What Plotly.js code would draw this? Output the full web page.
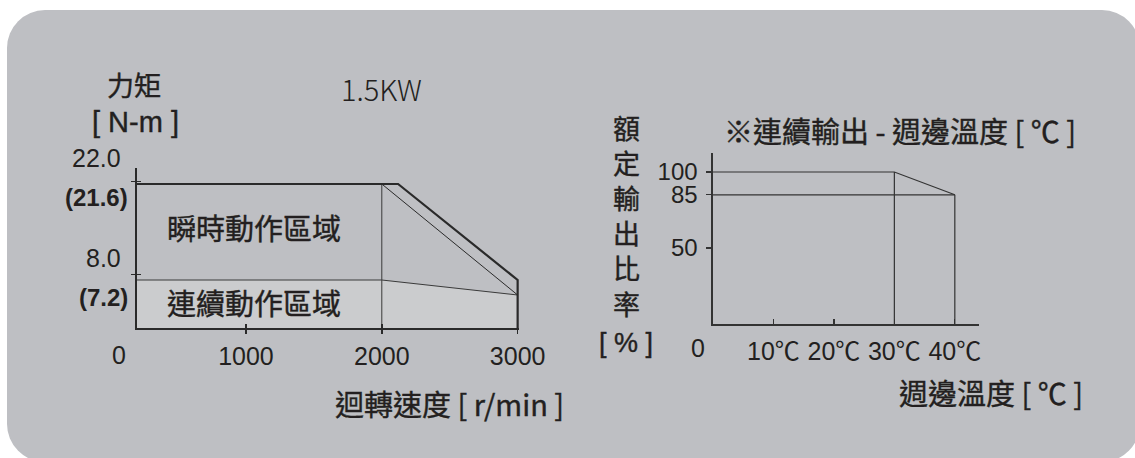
<!DOCTYPE html>
<html>
<head>
<meta charset="utf-8">
<script src="https://cdn.plot.ly/plotly-3.0.1.min.js"></script>
<style>
  html, body { margin: 0; padding: 0; background: #ffffff; }
  #wrap { position: relative; width: 1135px; height: 458px; overflow: hidden; }
  #panel { position: absolute; left: 7px; top: 10px; width: 1133px; height: 452px;
           border-radius: 38px; background: #bebfc3; }
  #chart { position: absolute; left: 0; top: 0; width: 1135px; height: 458px; }
</style>
</head>
<body>
<div id="wrap"><div id="panel"></div><div id="chart"></div></div>
<script>
// ---- Left chart: torque vs speed (1.5KW) ----
const peakSpeed = [0, 2120, 3000, 3000];      // r/min
const peakTorque = [21.6, 21.6, 7.2, 0];      // N-m
const innerSpeed = [2000, 3000];
const innerTorque = [21.6, 4.95];
const contSpeed = [0, 2000, 3000];
const contTorque = [7.2, 7.2, 4.95];
const splitSpeed = [2000, 2000];
const splitTorque = [0, 21.6];
const speedTicks = [1000, 2000, 3000];
const speedTickText = ['1000', '2000', '3000'];
const torqueTicks = [22, 8];
const torqueTickText = ['22.0', '8.0'];
const torqueMarks = [21.6, 7.2];
const torqueMarkText = ['(21.6)', '(7.2)'];

// ---- Right chart: rated output vs ambient temperature ----
const tempRated = [0, 30, 40];
const outRated = [100, 100, 85];
const temp85 = [0, 40];
const out85 = [85, 85];
const temp30Line = [30, 30];
const out30Line = [0, 100];
const temp40Line = [40, 40];
const out40Line = [0, 85];
const tempTicks = [10, 20, 30, 40];
const tempTickText = ['10℃', '20℃', '30℃', '40℃'];
const outTicks = [50, 85, 100];
const outTickText = ['50', '85', '100'];
const verticalLabel = ['額', '定', '輸', '出', '比', '率', '[ % ]'];

const W = 1135, H = 458;
const px = v => v / W;
const py = v => 1 - v / H;
const ink = '#231f20';
const lineC = '#2a2a2a';
const cjk = 'Noto Sans CJK TC, Noto Sans CJK SC, sans-serif';
const lat = 'Liberation Sans, Arial, Noto Sans CJK TC, sans-serif';

const traces = [
  { x: contSpeed.concat([contSpeed[contSpeed.length - 1], contSpeed[0]]),
    y: contTorque.concat([0, 0]),
    type: 'scatter', mode: 'lines', fill: 'toself', fillcolor: '#cbccce',
    line: { width: 0, color: 'rgba(0,0,0,0)' }, hoverinfo: 'skip', xaxis: 'x', yaxis: 'y' },
  { x: splitSpeed, y: splitTorque, type: 'scatter', mode: 'lines',
    line: { color: '#3a3a3a', width: 1 }, xaxis: 'x', yaxis: 'y' },
  { x: contSpeed, y: contTorque, type: 'scatter', mode: 'lines',
    line: { color: '#3a3a3a', width: 1 }, xaxis: 'x', yaxis: 'y' },
  { x: innerSpeed, y: innerTorque, type: 'scatter', mode: 'lines',
    line: { color: '#2a2a2a', width: 1 }, xaxis: 'x', yaxis: 'y' },
  { x: peakSpeed, y: peakTorque, type: 'scatter', mode: 'lines',
    line: { color: lineC, width: 2.2 }, xaxis: 'x', yaxis: 'y' },
  { x: [], y: [], type: 'scatter', mode: 'lines', xaxis: 'x3', yaxis: 'y3' },

  { x: tempRated, y: outRated, type: 'scatter', mode: 'lines',
    line: { color: '#333', width: 1.2 }, xaxis: 'x2', yaxis: 'y2' },
  { x: temp85, y: out85, type: 'scatter', mode: 'lines',
    line: { color: '#333', width: 1.2 }, xaxis: 'x2', yaxis: 'y2' },
  { x: temp30Line, y: out30Line, type: 'scatter', mode: 'lines',
    line: { color: '#333', width: 1.2 }, xaxis: 'x2', yaxis: 'y2' },
  { x: temp40Line, y: out40Line, type: 'scatter', mode: 'lines',
    line: { color: '#333', width: 1.2 }, xaxis: 'x2', yaxis: 'y2' }
];

const baseAxis = { showgrid: false, zeroline: false, fixedrange: true };

const annotations = [];
const heavyIdx = [];
function addText(text, xPix, yPix, size, opts, heavy) {
  if (heavy !== false) heavyIdx.push(annotations.length);
  annotations.push(Object.assign({
    text: text, xref: 'paper', yref: 'paper', x: px(xPix), y: py(yPix),
    xanchor: 'center', yanchor: 'middle', showarrow: false,
    font: { family: cjk, size: size, color: ink }
  }, opts || {}));
}
addText('力矩', 134, 85, 27);
addText('[ N-m ]', 135, 122, 29, { font: { family: lat, size: 29, color: ink } });
addText('1.5KW', 381, 88, 29, { font: { family: cjk, size: 29, color: ink, weight: 300 } }, false);
addText('瞬時動作區域', 254, 227, 29);
addText('連續動作區域', 254, 302, 29);
addText('迴轉速度 [ r/min ]', 449, 403, 29);
addText('※連續輸出 - 週邊溫度 [ ℃ ]', 900, 130, 29);
addText('週邊溫度 [ ℃ ]', 991, 392, 29);
verticalLabel.forEach((ch, i) => {
  const y = i < 6 ? 127 + i * 35.2 : 343;
  addText(ch, 626, y, 27, i < 6 ? {} : { font: { family: lat, size: 27, color: ink } });
});

// torque tick labels (placed beside their values)
const tickShift = [23, 17];
torqueTicks.forEach((v, i) => annotations.push({
  text: torqueTickText[i], xref: 'paper', yref: 'y', x: px(123), y: v, yshift: tickShift[i],
  xanchor: 'right', yanchor: 'middle', showarrow: false,
  font: { family: lat, size: 25, color: ink } }));
const markShift = [-14, -17];
torqueMarks.forEach((v, i) => annotations.push({
  text: '<b>' + torqueMarkText[i] + '</b>', xref: 'paper', yref: 'y', x: px(130), y: v, yshift: markShift[i],
  xanchor: 'right', yanchor: 'middle', showarrow: false,
  font: { family: lat, size: 24, color: ink } }));
// origin labels
annotations.push({ text: '0', xref: 'paper', yref: 'paper', x: px(119), y: py(355),
  xanchor: 'center', yanchor: 'middle', showarrow: false, font: { family: lat, size: 25, color: ink } });
annotations.push({ text: '0', xref: 'x2', yref: 'y2', x: 0, y: 0, xshift: -15, yshift: -24,
  xanchor: 'center', yanchor: 'middle', showarrow: false, font: { family: lat, size: 25, color: ink } });

const layout = {
  width: W, height: H,
  margin: { l: 0, r: 0, t: 0, b: 0, pad: 0 },
  paper_bgcolor: 'rgba(0,0,0,0)', plot_bgcolor: 'rgba(0,0,0,0)',
  showlegend: false,
  xaxis: Object.assign({}, baseAxis, {
    domain: [px(137), px(519)], range: [198, 3010], anchor: 'y',
    tickmode: 'array', tickvals: speedTicks, ticktext: speedTickText,
    ticks: 'outside', ticklen: 4, tickwidth: 1.5, tickcolor: lineC,
    showline: true, linecolor: lineC, linewidth: 2,
    ticklabelstandoff: 1,
    tickfont: { family: lat, size: 25, color: ink } }),
  yaxis: Object.assign({}, baseAxis, {
    domain: [py(328), py(168)], range: [0, 24], anchor: 'x',
    tickmode: 'array', tickvals: torqueTicks, showticklabels: false,
    ticks: 'outside', ticklen: 4, tickwidth: 1.5, tickcolor: lineC,
    showline: true, linecolor: lineC, linewidth: 2 }),
  xaxis3: Object.assign({}, baseAxis, {
    overlaying: 'x', matches: 'x', anchor: 'y', domain: [px(137), px(519)],
    tickmode: 'array', tickvals: speedTicks, showticklabels: false,
    ticks: 'inside', ticklen: 4, tickwidth: 1.5, tickcolor: lineC, showline: false }),
  yaxis3: Object.assign({}, baseAxis, {
    overlaying: 'y', matches: 'y', anchor: 'x', domain: [py(328), py(168)],
    tickmode: 'array', tickvals: torqueTicks, showticklabels: false,
    ticks: 'inside', ticklen: 4, tickwidth: 1.5, tickcolor: lineC, showline: false }),
  xaxis2: Object.assign({}, baseAxis, {
    domain: [px(713), px(979)], range: [0, 44], anchor: 'y2',
    tickmode: 'array', tickvals: tempTicks, ticktext: tempTickText,
    ticks: 'inside', ticklen: 5, tickwidth: 1.2, tickcolor: '#333',
    showline: true, linecolor: '#333', linewidth: 1.6,
    ticklabelstandoff: 4,
    tickfont: { family: lat, size: 25, color: ink } }),
  yaxis2: Object.assign({}, baseAxis, {
    domain: [py(324), py(153)], range: [0, 112.5], anchor: 'x2',
    tickmode: 'array', tickvals: outTicks, ticktext: outTickText,
    ticks: 'outside', ticklen: 5, tickwidth: 1.2, tickcolor: '#333',
    showline: true, linecolor: '#333', linewidth: 1.6,
    ticklabelstandoff: 4,
    tickfont: { family: lat, size: 24, color: ink } }),
  annotations: annotations
};

Plotly.newPlot('chart', traces, layout, { staticPlot: true, displayModeBar: false }).then(() => {
  document.querySelectorAll('#chart g.annotation').forEach(g => {
    const idx = parseInt(g.getAttribute('data-index'), 10);
    if (heavyIdx.indexOf(idx) >= 0) {
      const t = g.querySelector('text.annotation-text');
      if (t) { t.style.stroke = ink; t.style.strokeWidth = '0.4px'; }
    }
  });
});
</script>
</body>
</html>
